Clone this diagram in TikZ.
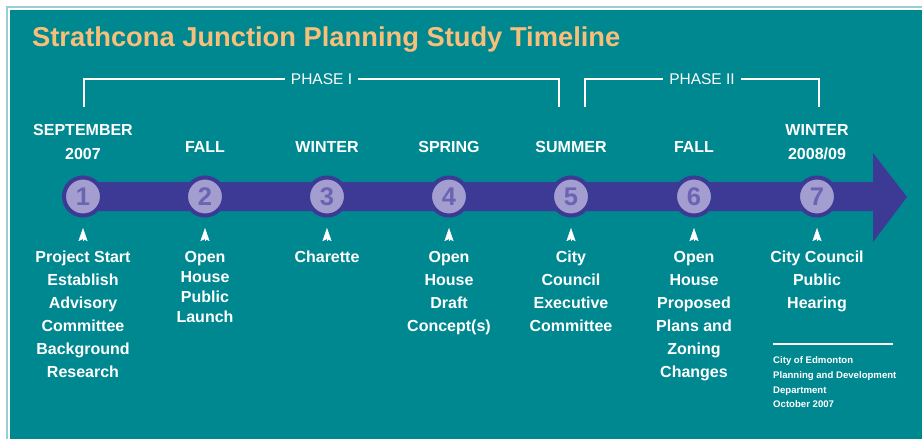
\documentclass[tikz,border=0pt]{standalone}
\usepackage{fontspec}
\setmainfont{Liberation Sans}
\usetikzlibrary{positioning, arrows.meta}

\definecolor{sjteal}{HTML}{008891}
\definecolor{sjedge}{HTML}{9CCBD0}
\definecolor{sjorange}{HTML}{F8BF7A}
\definecolor{sjband}{HTML}{3D3A95}
\definecolor{sjdisc}{HTML}{A39DD0}
\definecolor{sjnum}{HTML}{6A64B2}

\begin{document}
\begin{tikzpicture}[
  x=1pt, y=-1pt,
  milestone/.style={circle, draw=sjband, fill=sjdisc, line width=4pt, minimum size=38pt, inner sep=0pt, text=sjnum, font=\fontsize{25.5}{25.5}\selectfont\bfseries},
  season/.style={text=white, align=center, inner sep=0pt, font=\fontsize{16}{24}\selectfont\bfseries},
  event/.style={text=white, align=center, inner sep=0pt, font=\fontsize{16}{23}\selectfont\bfseries},
  phase/.style={text=white, fill=sjteal, inner sep=6pt, font=\fontsize{15.5}{18}\selectfont},
  bracket/.style={draw=white, line width=1.6pt},
  pointer/.style={white, line width=0.4pt, shorten <=10pt, shorten >=10.5pt, -{Stealth[length=13pt, width=9pt, inset=2pt]}}
]
\useasboundingbox (0,0) rectangle (922,439);
% Page and panel (run past the page edge, cut off there)
\fill[white] (-5,-5) rectangle (930,450);
\draw[sjedge, line width=1.5pt] (7,450) |- (930,7);
\fill[sjteal] (10,10) rectangle (930,450);

% Title
\node[anchor=base west, inner sep=0pt, text=sjorange, font=\fontsize{27.3}{27.3}\selectfont\bfseries] (title) at (32,46) {Strathcona Junction Planning Study Timeline};

% Phase brackets
\coordinate (ph1s) at (84,107);
\coordinate (ph1e) at (559,107);
\coordinate (ph2s) at (585,107);
\coordinate (ph2e) at (819,107);
\draw[bracket] (ph1s) -- ++(0,-28) -| node[pos=0.25, phase] {PHASE I} (ph1e);
\draw[bracket] (ph2s) -- ++(0,-28) -| node[pos=0.25, phase] {PHASE II} (ph2e);

% Time arrow
\fill[sjband] (83,182) -- (873,182) -- (873,153) -- (907,197) -- (873,242) -- (873,211) -- (83,211) -- cycle;

% Milestones
\node[milestone] (c1) at (83,196.5) {1};
\node[milestone] (c2) at (205,196.5) {2};
\node[milestone] (c3) at (327,196.5) {3};
\node[milestone] (c4) at (449,196.5) {4};
\node[milestone] (c5) at (571,196.5) {5};
\node[milestone] (c6) at (694,196.5) {6};
\node[milestone] (c7) at (817,196.5) {7};

% Seasons
\node[season, above=15.5pt of c1] (s1) {SEPTEMBER\\2007};
\node[season, above=22.5pt of c2] (s2) {FALL};
\node[season, above=22.5pt of c3] (s3) {WINTER};
\node[season, above=22.5pt of c4] (s4) {SPRING};
\node[season, above=22.5pt of c5] (s5) {SUMMER};
\node[season, above=22.5pt of c6] (s6) {FALL};
\node[season, above=15.5pt of c7] (s7) {WINTER\\2008/09};

% Events
\node[event, below=33.5pt of c1] (d1) {Project Start\\Establish\\Advisory\\Committee\\Background\\Research};
\node[event, below=33.5pt of c2, font=\fontsize{16}{20}\selectfont\bfseries] (d2) {Open\\House\\Public\\Launch};
\node[event, below=33.5pt of c3] (d3) {Charette};
\node[event, below=33.5pt of c4] (d4) {Open\\House\\Draft\\Concept(s)};
\node[event, below=33.5pt of c5] (d5) {City\\Council\\Executive\\Committee};
\node[event, below=33.5pt of c6] (d6) {Open\\House\\Proposed\\Plans and\\Zoning\\Changes};
\node[event, below=33.5pt of c7] (d7) {City Council\\Public\\Hearing};

\draw[pointer] (d1) -- (c1);
\draw[pointer] (d2) -- (c2);
\draw[pointer] (d3) -- (c3);
\draw[pointer] (d4) -- (c4);
\draw[pointer] (d5) -- (c5);
\draw[pointer] (d6) -- (c6);
\draw[pointer] (d7) -- (c7);

% Credit
\draw[white, line width=1.6pt] (773,344) -- (893,344);
\node[anchor=north west, inner sep=0pt, text=white, align=left, font=\fontsize{9.6}{14.7}\selectfont\bfseries] (credit) at (773,356.5) {City of Edmonton\\Planning and Development\\Department\\October 2007};

\end{tikzpicture}
\end{document}
